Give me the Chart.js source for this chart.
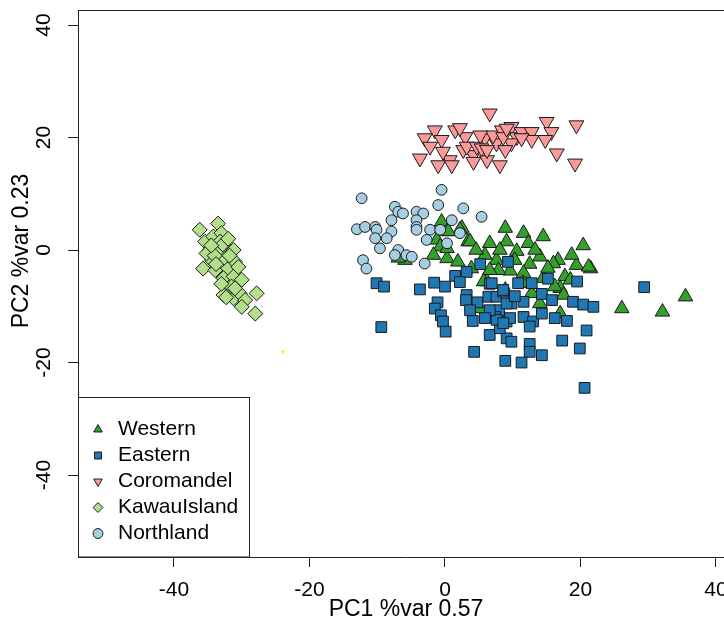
<!DOCTYPE html>
<html><head><meta charset="utf-8">
<script src="https://cdn.jsdelivr.net/npm/chart.js@4/dist/chart.umd.min.js"></script>
<style>
html,body{margin:0;padding:0;background:#fff;overflow:hidden;}
#wrap{position:relative;width:724px;height:621px;overflow:hidden;background:#fff;}
#c{position:absolute;left:0;top:0;}
</style></head><body>
<div id="wrap"><canvas id="c" width="750" height="621" style="width:750px;height:621px"></canvas></div>
<script>
// ---- data (PC1, PC2) ----
const groupNames = ['Western', 'Eastern', 'Coromandel', 'KawauIsland', 'Northland'];
const western = [[-0.5,5.0],[0.3,3.3],[2.5,3.9],[3.4,1.5],[-1.2,1.8],[-0.7,0.6],[-1.7,-0.9],[0.3,-1.5],[-5.9,-1.8],[3.9,-3.3],
  [8.9,3.9],[11.6,3.0],[14.5,2.4],[20.4,0.8],[3.7,1.5],[6.6,1.2],[9.1,1.5],[12.3,1.2],[10.6,-0.2],[5.9,-0.9],
  [7.6,-1.8],[14.0,-1.2],[16.7,-1.8],[12.5,-2.5],[9.6,-3.7],[7.9,-3.6],[19.4,-2.7],[21.5,-3.3],[17.7,-4.7],[14.5,-5.0],
  [11.6,-4.1],[0.3,0.3],[2.2,3.6],[0.5,3.3],[17.0,-6.8],[17.5,-8.0],[12.8,-7.7],[6.2,-5.6],[16.2,-6.5],[14.0,-9.5],
  [26.1,-10.4],[32.1,-11.0],[35.5,-8.3],[5.7,-5.6],[5.2,-10.4],[17.0,-11.3],[16.0,-2.4],[21.2,-3.0],[4.6,0.0],[10.3,-1.8],
  [8.1,0.0],[13.3,0.0],[15.2,-3.2],[1.9,-2.1],[11.5,-5.9],[18.7,-0.9],[-6.9,-1.4],[6.6,-3.6],[18.5,-5.3],[8.9,-7.1]];
const eastern = [[-10.1,-5.9],[-9.0,-6.5],[-9.4,-13.7],[-3.7,-7.0],[-1.6,-5.8],[0.0,-6.5],[1.5,-4.6],[-1.1,-9.3],[-1.5,-10.4],[-0.6,-11.6],
  [-0.3,-12.7],[0.1,-14.5],[4.1,-12.6],[4.3,-18.1],[6.6,-15.1],[3.2,-8.0],[3.1,-8.9],[4.8,-9.3],[6.4,-8.3],[6.6,-6.0],
  [7.6,-8.3],[8.0,-10.7],[7.4,-11.9],[9.1,-12.7],[9.1,-15.7],[8.9,-19.7],[5.2,-2.5],[8.6,-7.4],[9.3,-2.1],[10.8,-5.9],
  [12.8,-5.9],[15.2,-5.1],[19.5,-5.6],[14.3,-7.8],[9.8,-9.5],[11.6,-9.2],[11.6,-11.9],[13.0,-12.7],[12.5,-13.6],[14.3,-11.3],
  [16.2,-12.1],[18.0,-12.6],[18.9,-9.2],[20.4,-9.7],[21.9,-10.1],[20.9,-14.3],[17.3,-16.1],[19.9,-17.5],[9.8,-16.3],[12.5,-16.7],
  [12.5,-18.1],[14.3,-18.7],[11.3,-20.0],[20.6,-24.5],[8.1,-13.9],[29.4,-6.6],[6.9,-5.9],[7.6,-12.4],[9.6,-12.1],[8.6,-13.0],
  [9.1,-9.5],[3.2,-3.9],[8.6,-7.1],[2.2,-5.7],[10.3,-8.2],[15.8,-8.9],[6.6,-10.7],[3.7,-10.7],[5.9,-12.1]];
const coromandel = [[6.6,24.3],[-1.5,21.3],[1.5,21.3],[3.0,20.1],[-3.0,19.9],[-2.2,18.4],[-0.5,19.6],[-3.7,16.3],[-1.0,15.1],[0.7,16.0],
  [-0.3,17.5],[2.7,17.8],[4.2,16.9],[3.2,18.4],[4.7,18.4],[5.9,19.9],[6.2,16.0],[8.1,15.1],[7.6,19.0],[7.1,20.4],
  [8.4,21.3],[9.8,21.9],[10.6,20.1],[9.8,19.0],[11.3,21.0],[12.8,21.0],[12.8,19.6],[15.0,22.8],[15.7,21.0],[14.8,19.6],
  [16.5,17.2],[19.2,15.4],[19.4,22.2],[5.2,20.4],[5.4,18.1],[6.2,17.8],[8.6,20.1],[9.1,21.6],[11.3,19.9],[4.2,15.7],
  [2.2,21.7],[8.9,17.8],[1.0,15.1]];
const kawauIsland = [[-36.2,3.6],[-33.5,4.7],[-35.4,1.5],[-34.2,2.4],[-33.0,3.0],[-34.7,0.0],[-33.5,-0.3],[-32.2,0.3],[-31.2,0.0],[-32.5,-1.5],
  [-34.4,-1.8],[-35.7,-3.3],[-33.9,-3.6],[-32.0,-3.3],[-31.0,-2.1],[-32.7,-5.0],[-31.2,-4.7],[-30.0,-5.3],[-31.5,-6.5],[-32.7,-8.0],
  [-31.2,-8.6],[-30.3,-7.7],[-29.5,-8.9],[-30.0,-10.1],[-27.8,-7.7],[-28.0,-11.3],[-35.2,-0.6],[-33.2,1.5],[-34.0,-1.0],[-32.8,1.0],
  [-33.8,-2.5],[-31.8,-1.0],[-33.0,-6.0],[-31.0,-6.8],[-34.5,0.8],[-32.0,2.0],[-30.5,-3.0],[-32.3,-8.4]];
const northland = [[-12.3,9.2],[-0.5,10.7],[-1.0,8.0],[2.7,7.4],[-7.4,7.7],[-6.9,6.8],[-6.2,6.5],[-7.9,5.3],[-4.2,6.8],[-3.2,6.5],
  [-4.2,5.3],[-4.2,4.1],[1.0,5.3],[-13.0,3.7],[-11.8,4.1],[-10.3,4.1],[-10.1,3.6],[-7.9,3.3],[-8.6,2.1],[-10.3,2.1],
  [-9.6,0.3],[-4.2,3.6],[-2.2,3.6],[-0.7,3.6],[2.2,3.0],[-2.7,1.8],[0.3,1.2],[-6.9,0.0],[-7.4,-0.9],[-5.7,-0.9],
  [-4.9,-1.2],[-12.1,-1.8],[-11.6,-3.3],[-3.0,-2.4],[5.4,5.9]];
const strayPoint = [[-23.9,-18.1]];
const xTickValues = [-40, -20, 0, 20, 40];
const yTickValues = [-40, -20, 0, 20, 40];
const xTitle = 'PC1 %var 0.57';
const yTitle = 'PC2 %var 0.23';

const FONT = '"Liberation Sans", Arial, Helvetica, sans-serif';
const toPts = a => a.map(p => ({x: p[0], y: p[1]}));
const EDGE = '#1a1a1a';

const datasets = [
  {label: groupNames[0], data: toPts(western), pointStyle: 'triangle', pointRadius: 8.4, backgroundColor: '#33a02c', borderColor: EDGE, borderWidth: 1, order: 6},
  {label: groupNames[1], data: toPts(eastern), pointStyle: 'rect', pointRadius: 7.6, backgroundColor: '#1f78b4', borderColor: EDGE, borderWidth: 1, order: 5},
  {label: groupNames[2], data: toPts(coromandel), pointStyle: 'triangle', rotation: 180, pointRadius: 8.6, backgroundColor: '#fb9a99', borderColor: EDGE, borderWidth: 1, order: 4},
  {label: groupNames[3], data: toPts(kawauIsland), pointStyle: 'rectRot', pointRadius: 7.5, backgroundColor: '#b2df8a', borderColor: EDGE, borderWidth: 1, order: 3},
  {label: groupNames[4], data: toPts(northland), pointStyle: 'circle', pointRadius: 5.4, backgroundColor: '#a6cee3', borderColor: EDGE, borderWidth: 1, order: 2},
  {label: '', data: toPts(strayPoint), pointStyle: 'circle', pointRadius: 1.6, backgroundColor: '#ffee00', borderColor: '#ffee00', borderWidth: 0, order: 1}
];
datasets.forEach(d => { d.pointHoverRadius = d.pointRadius; });

const framePlugin = {
  id: 'frame',
  afterLayout(chart) {
    const lg = chart.legend;
    if (lg) { lg.left += 5.5; lg.right += 5.5; lg.top += 2; lg.bottom += 2; }
  },
  afterDraw(chart) {
    const {ctx, chartArea: a} = chart;
    ctx.save();
    ctx.strokeStyle = '#222';
    ctx.lineWidth = 1;
    ctx.beginPath();
    ctx.moveTo(a.left, a.top + 0.5); ctx.lineTo(a.right, a.top + 0.5);
    ctx.moveTo(a.right - 0.5, a.top); ctx.lineTo(a.right - 0.5, a.bottom);
    ctx.stroke();
    ctx.strokeRect(a.left + 0.5, 397.5, 171, a.bottom - 397.5);
    ctx.fillStyle = '#000';
    ctx.font = '23px ' + FONT;
    ctx.translate(22, 251);
    ctx.rotate(-Math.PI / 2);
    ctx.textAlign = 'center';
    ctx.textBaseline = 'middle';
    ctx.fillText(yTitle, 0, 0);
    ctx.restore();
  }
};

new Chart(document.getElementById('c'), {
  type: 'scatter',
  data: {datasets},
  plugins: [framePlugin],
  options: {
    responsive: false,
    devicePixelRatio: 1,
    animation: false,
    events: [],
    layout: {padding: {top: 10, right: 16, left: 0, bottom: 0}},
    scales: {
      x: {
        type: 'linear', min: -54.17, max: 42.66,
        afterBuildTicks: s => { s.ticks = xTickValues.map(v => ({value: v})); },
        afterFit: s => { s.height = 64; s.paddingLeft = 0; s.paddingRight = 0; },
        grid: {drawOnChartArea: false, drawTicks: true, tickLength: 10, color: '#222', tickColor: '#222'},
        border: {display: true, color: '#222', width: 1},
        ticks: {color: '#000', font: {size: 21, family: FONT, lineHeight: 1}, padding: 12.5, maxRotation: 0, autoSkip: false},
        title: {display: true, text: xTitle, color: '#000', font: {size: 23, family: FONT, lineHeight: 1}, padding: 0}
      },
      y: {
        type: 'linear', min: -54.57, max: 42.67,
        afterBuildTicks: s => { s.ticks = yTickValues.map(v => ({value: v})); },
        afterFit: s => { s.width = 78; s.paddingTop = 0; s.paddingBottom = 0; },
        grid: {drawOnChartArea: false, drawTicks: true, tickLength: 10, color: '#222', tickColor: '#222'},
        border: {display: true, color: '#222', width: 1},
        ticks: {color: '#000', font: {size: 21, family: FONT, lineHeight: 1}, padding: 8.8, minRotation: 90, maxRotation: 90, crossAlign: 'center', autoSkip: false}
      }
    },
    plugins: {
      tooltip: {enabled: false},
      legend: {
        position: 'chartArea',
        align: 'end',
        labels: {
          usePointStyle: true, boxWidth: 19, boxHeight: 7, padding: 5,
          color: '#000', font: {size: 21, family: FONT},
          filter: item => item.text !== '',
          sort: (a, b) => a.datasetIndex - b.datasetIndex
        }
      }
    }
  }
});
</script>
</body></html>
